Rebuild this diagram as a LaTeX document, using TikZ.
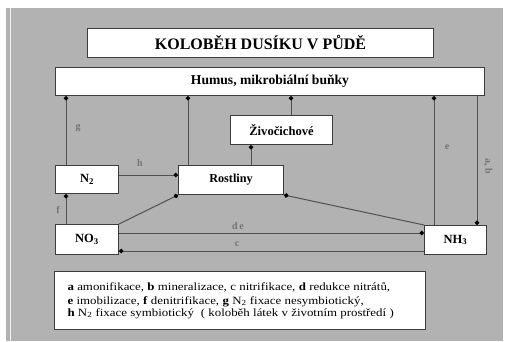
\documentclass[tikz,border=0pt]{standalone}
\usepackage{fontspec}
\setmainfont{Liberation Serif}
\newfontfamily\widefont[FakeStretch=1.16]{Liberation Serif}
\usetikzlibrary{arrows.meta}
\definecolor{panel}{RGB}{178,178,178}
\definecolor{edge}{RGB}{60,60,60}
\definecolor{wire}{RGB}{80,80,80}
\begin{document}
\begin{tikzpicture}[x=1pt,y=-1pt,
  box/.style={draw=edge,fill=white,line width=1pt,inner sep=0pt,anchor=north west},
  arr/.style={draw=wire,line width=1pt,-{Circle[length=4.5pt,fill=black,color=black]}},
  lbl/.style={font=\fontsize{10}{11}\selectfont\bfseries,text=black!55,inner sep=0pt}]
% page and grey panel
\useasboundingbox (0,0) rectangle (509,341);
\fill[white] (0,0) rectangle (509,341);
\fill[panel] (6,8) rectangle (503,341);
\draw[white!85!panel,line width=1pt] (10,8) -- (10,341);

% boxes
\node[box,minimum width=346pt,minimum height=29pt] (title) at (87,28)
  {\fontsize{16}{18}\selectfont\bfseries KOLOBĚH DUSÍKU V PŮDĚ};
\node[box,minimum width=429pt,minimum height=28pt] (humus) at (55,67)
  {\fontsize{13.6}{15}\selectfont\bfseries Humus, mikrobiální buňky};
\node[box,minimum width=102pt,minimum height=29pt] (ziv) at (230,115)
  {\fontsize{12.6}{14}\selectfont\bfseries Živočichové};
\node[box,minimum width=105pt,minimum height=29pt] (rost) at (178,165)
  {\fontsize{12.2}{14}\selectfont\bfseries Rostliny};
\node[box,minimum width=63pt,minimum height=28pt] (ntwo) at (55,165)
  {\fontsize{12.5}{14}\selectfont\bfseries N\textsubscript{2}};
\node[box,minimum width=63pt,minimum height=30pt] (nothree) at (55,224)
  {\fontsize{12.5}{14}\selectfont\bfseries NO\textsubscript{3}};
\node[box,minimum width=62pt,minimum height=29pt] (nhthree) at (424,225)
  {\fontsize{12.5}{14}\selectfont\bfseries NH\textsubscript{3}};
\node[box,minimum width=371pt,minimum height=58pt,align=left,
  inner xsep=13pt,text width=345pt] (legend) at (54,271)
  {\widefont\fontsize{11.1}{14}\selectfont
   \textbf{a} amonifikace, \textbf{b} mineralizace, c nitrifikace, \textbf{d} redukce nitrátů,\\
   \textbf{e} imobilizace, \textbf{f} denitrifikace, \textbf{g} N\textsubscript{2} fixace nesymbiotický,\\
   \textbf{h} N\textsubscript{2} fixace symbiotický \ ( koloběh látek v životním prostředí )};

% columns and rows of the connectors
\coordinate (ca) at (66,0);
\coordinate (cb) at (188,0);
\coordinate (cc) at (251,0);
\coordinate (cd) at (291,0);
\coordinate (ce) at (434,0);
\coordinate (cf) at (477,0);
\coordinate (ra) at (0,175);
\coordinate (rb) at (0,233);
\coordinate (rc) at (0,251);

% vertical connectors
\draw[arr] (ntwo.north -| ca) -- (humus.south -| ca);
\draw[arr] (rost.north -| cb) -- (humus.south -| cb);
\draw[arr] (rost.north -| cc) -- (ziv.south -| cc);
\draw[arr] (ziv.north -| cd) -- (humus.south -| cd);
\draw[arr] (nhthree.north -| ce) -- (humus.south -| ce);
\draw[arr] (humus.south -| cf) -- (nhthree.north -| cf);
\draw[arr] (nothree.north -| ca) -- (ntwo.south -| ca);

% horizontal and slanted connectors
\draw[arr] (ntwo.east |- ra) -- (rost.west |- ra);
\draw[arr] (nothree.north east) -- (rost.south west);
\draw[arr] (nhthree.north west) -- (rost.south east);
\draw[arr] (nothree.east |- rb) -- (nhthree.west |- rb);
\draw[arr] (nhthree.west |- rc) -- (nothree.east |- rc);

% process letters
\node[lbl] (lg) at (78,128) {g};
\node[lbl] (lh) at (140,163) {h};
\node[lbl] (lf) at (58,210) {f};
\node[lbl] (lde) at (238,226) {d\,e};
\node[lbl] (lc) at (237,244) {c};
\node[lbl] (le) at (447,147) {e};
\node[lbl,rotate=-90] (lab) at (488,166) {a, b};
\end{tikzpicture}
\end{document}
